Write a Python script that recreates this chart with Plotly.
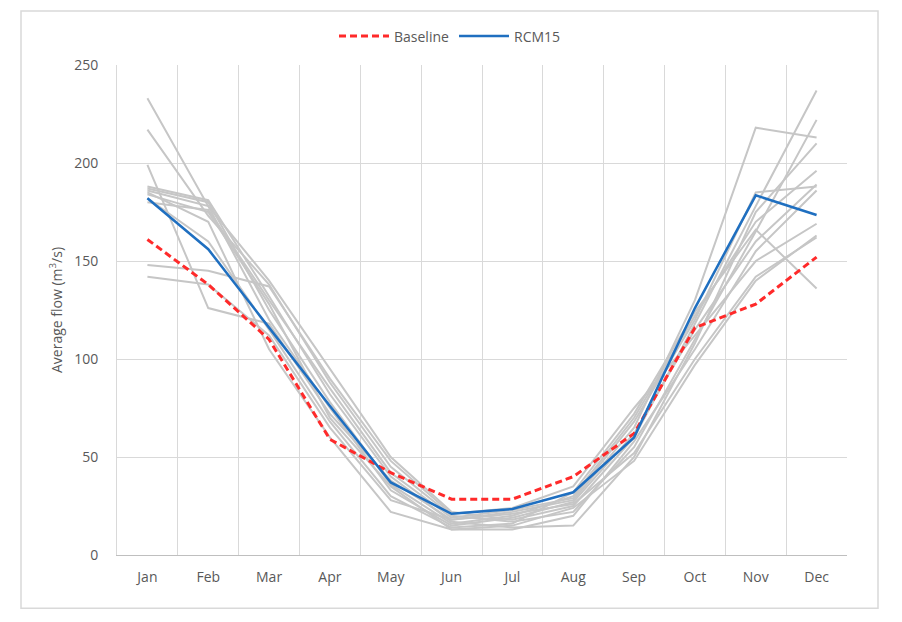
import plotly.graph_objects as go

months = ["Jan", "Feb", "Mar", "Apr", "May", "Jun", "Jul", "Aug", "Sep", "Oct", "Nov", "Dec"]

baseline = [161, 138, 110, 59, 42, 28.5, 28.5, 40, 62, 116, 128, 152]
rcm15 = [182, 156, 116, 76, 37, 21, 23.5, 32, 60, 126, 183.5, 173.5]

gcm1 = [233, 178, 140, 95, 50, 22, 18, 25, 60, 118, 178, 237]
gcm2 = [217, 173, 138, 88, 45, 20, 17, 22, 55, 110, 165, 222]
gcm3 = [199, 126, 118, 72, 38, 18, 22, 28, 65, 130, 218, 213]
gcm4 = [188, 181, 132, 82, 40, 17, 14, 15, 50, 108, 175, 210]
gcm5 = [187, 180, 125, 78, 36, 16, 20, 30, 70, 122, 170, 196]
gcm6 = [186, 178, 120, 75, 33, 15, 19, 27, 62, 115, 160, 189]
gcm7 = [184, 175, 128, 70, 35, 13, 13, 20, 58, 105, 155, 186]
gcm8 = [182, 160, 115, 68, 30, 14, 16, 32, 72, 124, 166, 136]
gcm9 = [148, 145, 137, 90, 48, 21, 24, 35, 75, 112, 150, 169]
gcm10 = [142, 138, 112, 65, 28, 18, 21, 26, 52, 100, 142, 162]
gcm11 = [185, 170, 105, 60, 22, 13, 15, 24, 48, 97, 140, 163]
gcm12 = [180, 176, 130, 85, 42, 19, 23, 29, 68, 120, 185, 188]

gray_series = [gcm1, gcm2, gcm3, gcm4, gcm5, gcm6, gcm7, gcm8, gcm9, gcm10, gcm11, gcm12]

y_ticks = [0, 50, 100, 150, 200, 250]

x_idx = list(range(len(months)))

fig = go.Figure()
for s in gray_series:
    fig.add_trace(go.Scatter(x=x_idx, y=s, mode="lines",
                             line=dict(color="#c6c6c6", width=2),
                             showlegend=False, hoverinfo="skip"))

fig.add_trace(go.Scatter(x=x_idx, y=baseline, mode="lines", name="Baseline",
                         line=dict(color="#ff2a2a", width=3, dash="7px,4px")))
fig.add_trace(go.Scatter(x=x_idx, y=rcm15, mode="lines", name="RCM15",
                         line=dict(color="#1f6fc0", width=2.5)))

# page body has an 8px margin, so the figure starts at (8, 8) on the page
OFF = 8
W, H = 902 - OFF, 622 - OFF
L, T = 117 - OFF, 57 - OFF
R = W - (847 - OFF)
B = H - (555 - OFF)
pw, ph = W - L - R, H - T - B


def px_x(x):
    return (x - OFF - L) / pw


def px_y(y):
    return (H - B - (y - OFF)) / ph


fig.update_layout(
    width=W, height=H,
    margin=dict(l=L, r=R, t=T, b=B),
    paper_bgcolor="white", plot_bgcolor="white",
    font=dict(family="Open Sans, Liberation Sans, sans-serif", color="#595959", size=14),
    legend=dict(orientation="h", x=px_x(450), xanchor="center", y=px_y(28), yanchor="middle",
                font=dict(size=14, color="#595959"), itemwidth=50, bgcolor="rgba(0,0,0,0)"),
    xaxis=dict(
        range=[-0.5, 11.5],
        tickmode="array", tickvals=x_idx, ticktext=months,
        showgrid=False, zeroline=False,
        showline=True, linecolor="#bfbfbf", linewidth=1,
        ticks="", ticklabelstandoff=9,
        tickfont=dict(size=14),
        minor=dict(tickmode="array", tickvals=[i - 0.5 for i in range(13)],
                   showgrid=True, gridcolor="#d9d9d9", gridwidth=1, ticks=""),
        fixedrange=True,
    ),
    yaxis=dict(
        range=[0, 250],
        tickmode="array", tickvals=y_ticks,
        showgrid=True, gridcolor="#d9d9d9", gridwidth=1,
        zeroline=False, showline=True, linecolor="#d9d9d9", mirror=False,
        ticks="", ticklabelstandoff=15,
        tickfont=dict(size=14),
        title=dict(text="Average flow (m<sup>3</sup>/s)", font=dict(size=14, color="#595959"), standoff=8),
        fixedrange=True,
    ),
    shapes=[dict(type="rect", xref="paper", yref="paper",
                 x0=px_x(21), x1=px_x(878),
                 y0=px_y(609), y1=px_y(2),
                 line=dict(color="#d9d9d9", width=1.5), fillcolor="rgba(0,0,0,0)", layer="below")],
)

fig.write_html("out.html")
